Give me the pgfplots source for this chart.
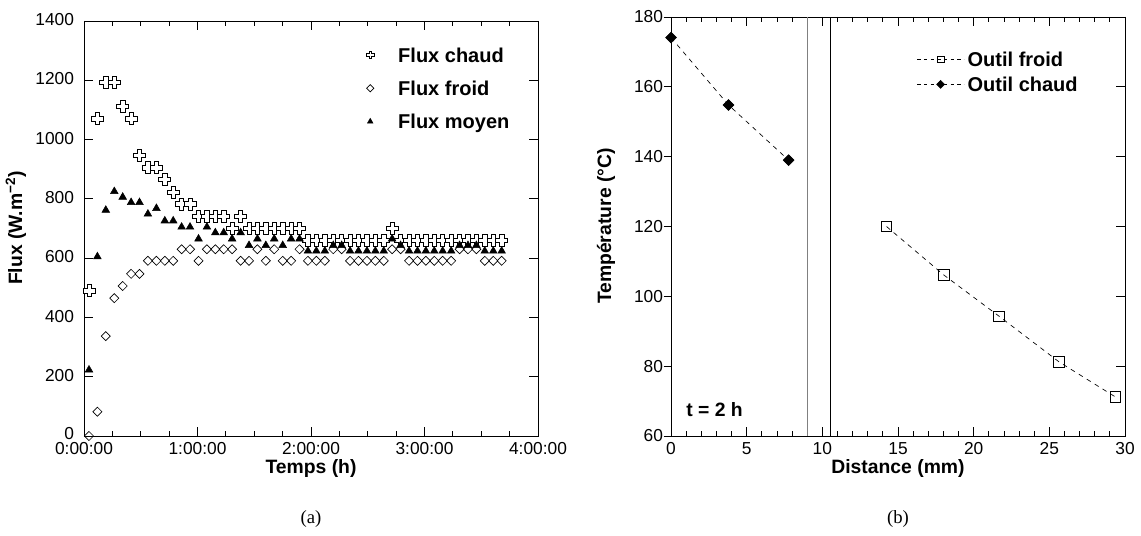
\documentclass[border=0pt]{standalone}
\usepackage{fontspec}
\setmainfont{Liberation Sans}
\newfontfamily\timesfont{Liberation Serif}
\usepackage{pgfplots}
\usepackage{pgfplotstable}
\pgfplotsset{compat=1.18}

\pgfdeclareplotmark{opencross}{%
  \pgfpathmoveto{\pgfqpoint{-0.36\pgfplotmarksize}{\pgfplotmarksize}}%
  \pgfpathlineto{\pgfqpoint{0.36\pgfplotmarksize}{\pgfplotmarksize}}%
  \pgfpathlineto{\pgfqpoint{0.36\pgfplotmarksize}{0.36\pgfplotmarksize}}%
  \pgfpathlineto{\pgfqpoint{\pgfplotmarksize}{0.36\pgfplotmarksize}}%
  \pgfpathlineto{\pgfqpoint{\pgfplotmarksize}{-0.36\pgfplotmarksize}}%
  \pgfpathlineto{\pgfqpoint{0.36\pgfplotmarksize}{-0.36\pgfplotmarksize}}%
  \pgfpathlineto{\pgfqpoint{0.36\pgfplotmarksize}{-\pgfplotmarksize}}%
  \pgfpathlineto{\pgfqpoint{-0.36\pgfplotmarksize}{-\pgfplotmarksize}}%
  \pgfpathlineto{\pgfqpoint{-0.36\pgfplotmarksize}{-0.36\pgfplotmarksize}}%
  \pgfpathlineto{\pgfqpoint{-\pgfplotmarksize}{-0.36\pgfplotmarksize}}%
  \pgfpathlineto{\pgfqpoint{-\pgfplotmarksize}{0.36\pgfplotmarksize}}%
  \pgfpathlineto{\pgfqpoint{-0.36\pgfplotmarksize}{0.36\pgfplotmarksize}}%
  \pgfpathclose
  \pgfusepathqfillstroke
}

% time (h), flux chaud, flux froid, flux moyen
\pgfplotstableread{
t c f m
0.044 490 0 223
0.118 1070 82 605
0.192 1193 337 762
0.267 1193 465 825
0.341 1111 506 806
0.415 1070 547 788
0.489 946 547 788
0.563 905 591 749
0.638 905 591 768
0.712 866 591 726
0.786 821 591 726
0.860 783 630 705
0.934 783 630 705
1.009 740 591 665
1.083 740 630 705
1.157 740 630 686
1.231 740 630 686
1.305 700 630 665
1.380 740 591 686
1.454 700 591 643
1.528 700 630 665
1.602 700 591 643
1.676 700 630 665
1.751 700 591 643
1.825 700 591 665
1.899 700 630 665
1.973 661 591 624
2.047 661 591 624
2.122 661 591 624
2.196 661 630 643
2.270 661 630 643
2.344 661 591 624
2.418 661 591 624
2.493 661 591 624
2.567 661 591 624
2.641 661 591 624
2.715 700 630 665
2.789 661 630 643
2.864 661 591 624
2.938 661 591 624
3.012 661 591 624
3.086 661 591 624
3.160 661 591 624
3.235 661 591 624
3.309 661 630 643
3.383 661 630 643
3.457 661 630 643
3.531 661 591 624
3.606 661 591 624
3.680 661 591 624
}\fluxdata

\pgfplotstableread{
x y
14.24 120.0
18.03 106.1
21.68 94.3
25.65 81.2
29.36 71.2
}\froiddata

\pgfplotstableread{
x y
0.00 174.1
3.80 154.8
7.77 139.0
}\chauddata

\pgfplotsset{
  common/.style={
    scale only axis, anchor=south west,
    every tick/.style={black, line width=0.6pt},
    axis line style={line width=0.7pt},
    tick label style={font=\fontsize{13}{15}\selectfont},
    xticklabel style={yshift=-1.5pt},
    /pgf/number format/assume math mode=true,
    /pgf/number format/1000 sep={},
    scaled ticks=false,
    label style={font=\bfseries\fontsize{14.5}{17}\selectfont},
    clip=false,
  },
}

\begin{document}
\begin{tikzpicture}
\useasboundingbox (0,0) rectangle (855.75pt,401.25pt);

% ---------------- (a) ----------------
\begin{axis}[common,
  at={(63pt,74.25pt)}, width=340.5pt, height=311.25pt,
  xmin=0, xmax=4, ymin=0, ymax=1400,
  xtick={0,1,2,3,4}, xticklabels={0:00:00,1:00:00,2:00:00,3:00:00,4:00:00},
  minor x tick num=3,
  ytick={0,200,...,1400},
  yticklabels={\raisebox{2pt}{0},200,400,600,800,1000,1200,1400},
  yticklabel style={xshift=-4pt, yshift=1pt},
  tick align=inside, tick pos=both,
  major tick length=6.75pt, minor tick length=3.4pt,
  xlabel={Temps (h)}, ylabel={Flux (W.m\textsuperscript{−2})},
  xlabel style={at={(axis description cs:0.5,-0.0775)}, anchor=center},
  ylabel style={at={(axis description cs:-0.1498,0.501)}, anchor=center},
  legend style={at={(0.6064,0.9378)}, anchor=north west, draw=none, fill=none,
    inner xsep=0pt, inner ysep=0pt, row sep=13.3pt, column sep=12.5pt,
    font=\bfseries\fontsize{15}{18}\selectfont,
    nodes={inner sep=0.5pt, text height=10.7pt, text depth=0pt}},
  legend cell align=left,
  legend image code/.code={\path[#1, draw=none, mark repeat=2, mark phase=2] plot coordinates {(0pt,0pt) (8pt,0pt) (16pt,0pt)};},
]
\addlegendimage{mark=opencross, mark size=2.7pt, mark options={fill=white, draw=black, line width=0.5pt}}
\addlegendentry{Flux chaud}
\addlegendimage{mark=square, mark size=1.9pt, mark options={rotate=45, fill=white, draw=black, line width=0.5pt}}
\addlegendentry{Flux froid}
\addlegendimage{mark=triangle*, mark size=2.4pt, mark options={fill=black, draw=black}}
\addlegendentry{Flux moyen}

\addplot[forget plot, only marks, mark=opencross, mark size=4.5pt,
  mark options={fill=white, draw=black, line width=0.5pt}] table[x=t, y=c] {\fluxdata};
\addplot[forget plot, only marks, mark=square, mark size=2.4pt,
  mark options={rotate=45, fill=white, draw=black, line width=0.5pt}] table[x=t, y=f] {\fluxdata};
\addplot[forget plot, only marks, mark=triangle*, mark size=3.3pt,
  mark options={fill=black, draw=black}] table[x=t, y=m] {\fluxdata};

\node[font=\timesfont\fontsize{14}{16}\selectfont] at (axis description cs:0.5,-0.2) {(a)};
\end{axis}

% ---------------- (b) ----------------
\begin{axis}[common,
  at={(503.25pt,74.25pt)}, width=340.5pt, height=314.25pt,
  xmin=0, xmax=30, ymin=60, ymax=180,
  xtick={0,5,...,30}, minor x tick num=4,
  ytick={60,80,...,180}, yticklabels={},
  tick align=inside, xtick pos=both, ytick pos=right,
  major tick length=6.75pt, minor tick length=3.4pt,
  xlabel={Distance (mm)},
  xlabel style={at={(axis description cs:0.5,-0.0768)}, anchor=center},
  legend style={at={(0.5412,0.9181)}, anchor=north west, draw=none, fill=none,
    inner xsep=0pt, inner ysep=0pt, row sep=7.05pt, column sep=2pt,
    font=\bfseries\fontsize{15}{18}\selectfont,
    nodes={inner sep=0.5pt, text height=10.7pt, text depth=0pt}},
  legend cell align=left,
  legend image code/.code={\draw[#1, mark repeat=2, mark phase=2] plot coordinates {(0pt,0pt) (17.5pt,0pt) (35pt,0pt)};},
]
\addlegendimage{black, line width=0.5pt, dash pattern=on 2.5pt off 2.5pt, mark=square, mark size=2.5pt, mark options={solid, fill=white}}
\addlegendentry{Outil froid}
\addlegendimage{black, line width=0.5pt, dash pattern=on 2.5pt off 2.5pt, mark=square*, mark size=2.1pt, mark options={solid, rotate=45, fill=black}}
\addlegendentry{Outil chaud}

\addplot[forget plot, gray, line width=0.6pt] coordinates {(9,60) (9,180)};
\addplot[forget plot, black, line width=0.6pt] coordinates {(10.5,60) (10.5,180)};

\addplot[forget plot, black, line width=0.5pt, dash pattern=on 3.5pt off 3.5pt,
  mark=square, mark size=4pt, mark options={solid, fill=white, line width=0.6pt}] table[x=x, y=y] {\froiddata};
\addplot[forget plot, black, line width=0.5pt, dash pattern=on 3.5pt off 3.5pt,
  mark=square*, mark size=2.85pt, mark options={solid, rotate=45, fill=black}] table[x=x, y=y] {\chauddata};

\node[anchor=west, inner sep=0pt, font=\bfseries\fontsize{14.5}{17}\selectfont] at (axis cs:1,67.5) {t = 2 h};
\node[font=\timesfont\fontsize{14}{16}\selectfont] at (axis description cs:0.5,-0.198) {(b)};
\end{axis}

% left-side outward ticks and labels of (b)
\begin{axis}[common,
  at={(503.25pt,74.25pt)}, width=340.5pt, height=314.25pt,
  xmin=0, xmax=30, ymin=60, ymax=180,
  hide x axis,
  ytick={60,80,...,180}, ytick pos=left,
  yticklabel style={xshift=3pt},
  tick align=outside, major tick length=5.5pt,
  ylabel={Température (°C)},
  ylabel style={at={(axis description cs:-0.143,0.501)}, anchor=center},
]
\end{axis}
\end{tikzpicture}
\end{document}
